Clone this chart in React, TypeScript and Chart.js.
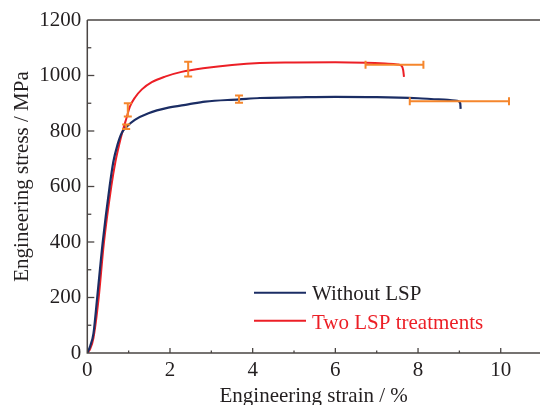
import React, { useEffect, useRef } from "react";
import { Chart, registerables } from "chart.js";
Chart.register(...registerables);

// ---- data ----
const navyStrain = [0, 0.07, 0.15, 0.23, 0.37, 0.54, 0.63, 0.73, 0.83, 0.95, 1.15, 1.48, 1.96, 2.44, 2.85, 3.67, 4.17, 5, 6, 7, 8, 8.5, 8.95, 9.02, 9.03];
const navyStress = [0, 25, 71, 185, 395, 600, 689, 750, 792, 815, 840, 864, 884, 896, 906, 914, 919, 921, 923, 922, 918, 914, 909, 900, 880];

const redStrain = [0, 0.07, 0.15, 0.27, 0.4, 0.58, 0.68, 0.77, 0.85, 0.95, 1.03, 1.15, 1.32, 1.56, 1.88, 2.28, 2.85, 3.5, 4.17, 5, 6, 6.74, 7.2, 7.5, 7.6, 7.64, 7.66];
const redStress = [0, 15, 55, 191, 395, 600, 689, 750, 797, 848, 888, 920, 950, 976, 996, 1013, 1027, 1038, 1045, 1047, 1048, 1046, 1043, 1040, 1035, 1020, 995];

const redErrStrain = [0.98, 2.44];
const redErrStress = [876, 1023];
const redErrSd = [24, 27];
const navyErrStrain = [0.94, 3.67];
const navyErrStress = [815, 915];
const navyErrSd = [8, 13];

const redElongStrain = [7.43];
const redElongStress = [1039];
const redElongSd = [0.7];
const navyElongStrain = [9.0];
const navyElongStress = [907];
const navyElongSd = [1.2];

const xTicks = [0, 2, 4, 6, 8, 10];
const yTicks = [0, 200, 400, 600, 800, 1000, 1200];
const seriesNames = ["Without LSP", "Two LSP treatments"];
const xTitle = "Engineering strain / %";
const yTitle = "Engineering stress / MPa";

const NAVY = "#1b2d64";
const RED = "#ec1f26";
const ORANGE = "#f5862c";
const AXIS = "#4a4543";
const TEXT = "#231f20";
const FONT = "'Liberation Serif', 'Times New Roman', serif";

export default function App() {
  const ref = useRef<HTMLCanvasElement>(null);

  useEffect(() => {
    const canvas = ref.current;
    if (!canvas) return;
    const ctx = canvas.getContext("2d")!;

    const decor = {
      id: "decor",
      afterDatasetsDraw(chart: any) {
        const c = chart.ctx;
        const xs = chart.scales.x;
        const ys = chart.scales.y;
        c.save();
        c.strokeStyle = ORANGE;
        c.lineWidth = 2;
        const vbar = (sx: number[], sy: number[], sd: number[]) => {
          for (let i = 0; i < sx.length; i++) {
            const px = xs.getPixelForValue(sx[i]);
            const y1 = ys.getPixelForValue(sy[i] + sd[i]);
            const y2 = ys.getPixelForValue(sy[i] - sd[i]);
            c.beginPath();
            c.moveTo(px, y1);
            c.lineTo(px, y2);
            c.moveTo(px - 4, y1);
            c.lineTo(px + 4, y1);
            c.moveTo(px - 4, y2);
            c.lineTo(px + 4, y2);
            c.stroke();
          }
        };
        const hbar = (sx: number[], sy: number[], sd: number[]) => {
          for (let i = 0; i < sx.length; i++) {
            const py = ys.getPixelForValue(sy[i]);
            const x1 = xs.getPixelForValue(sx[i] - sd[i]);
            const x2 = xs.getPixelForValue(sx[i] + sd[i]);
            c.beginPath();
            c.moveTo(x1, py);
            c.lineTo(x2, py);
            c.moveTo(x1, py - 4);
            c.lineTo(x1, py + 4);
            c.moveTo(x2, py - 4);
            c.lineTo(x2, py + 4);
            c.stroke();
          }
        };
        vbar(redErrStrain, redErrStress, redErrSd);
        vbar(navyErrStrain, navyErrStress, navyErrSd);
        hbar(redElongStrain, redElongStress, redElongSd);
        hbar(navyElongStrain, navyElongStress, navyElongSd);
        c.restore();
      },
      afterDraw(chart: any) {
        const c = chart.ctx;
        const a = chart.chartArea;
        const xs = chart.scales.x;
        const ys = chart.scales.y;
        c.save();
        // axes
        c.strokeStyle = AXIS;
        c.lineWidth = 1.5;
        c.beginPath();
        c.moveTo(a.left, a.top);
        c.lineTo(a.left, a.bottom);
        c.lineTo(a.right, a.bottom);
        c.moveTo(a.left, a.top);
        c.lineTo(a.right, a.top);
        c.stroke();
        // x ticks (inward)
        c.lineWidth = 1.3;
        for (let v = 1; v <= 10; v++) {
          const px = xs.getPixelForValue(v);
          const len = v % 2 === 0 ? 5 : 2.5;
          c.beginPath();
          c.moveTo(px, a.bottom);
          c.lineTo(px, a.bottom - len);
          c.stroke();
        }
        // y ticks (inward)
        for (let v = 100; v < 1200; v += 100) {
          const py = ys.getPixelForValue(v);
          const len = v % 200 === 0 ? 7 : 4;
          c.beginPath();
          c.moveTo(a.left, py);
          c.lineTo(a.left + len, py);
          c.stroke();
        }
        // titles
        c.fillStyle = TEXT;
        c.font = `21px ${FONT}`;
        c.textAlign = "center";
        c.textBaseline = "alphabetic";
        c.fillText(xTitle, (a.left + a.right) / 2, 401.5);
        c.save();
        c.translate(28.3, (a.top + a.bottom) / 2 - 10);
        c.rotate(-Math.PI / 2);
        c.fillText(yTitle, 0, 0);
        c.restore();
        // legend
        c.textAlign = "left";
        c.lineWidth = 2;
        c.strokeStyle = NAVY;
        c.beginPath();
        c.moveTo(254, 292.7);
        c.lineTo(306, 292.7);
        c.stroke();
        c.fillStyle = TEXT;
        c.fillText(seriesNames[0], 312, 300.3);
        c.strokeStyle = RED;
        c.beginPath();
        c.moveTo(254, 320.7);
        c.lineTo(306, 320.7);
        c.stroke();
        c.fillStyle = RED;
        c.fillText(seriesNames[1], 312, 328.5);
        c.restore();
      },
    };

    const chart = new Chart(ctx, {
      type: "scatter",
      data: {
        datasets: [
          {
            label: seriesNames[0],
            data: navyStrain.map((x, i) => ({ x, y: navyStress[i] })),
            showLine: true,
            borderColor: NAVY,
            borderWidth: 2.2,
            pointRadius: 0,
            cubicInterpolationMode: "monotone",
          },
          {
            label: seriesNames[1],
            data: redStrain.map((x, i) => ({ x, y: redStress[i] })),
            showLine: true,
            borderColor: RED,
            borderWidth: 2,
            pointRadius: 0,
            cubicInterpolationMode: "monotone",
          },
        ],
      },
      options: {
        responsive: false,
        animation: false,
        devicePixelRatio: 1,
        layout: { padding: { top: 20, right: 0, left: 0, bottom: 0 } },
        plugins: { legend: { display: false }, tooltip: { enabled: false } },
        scales: {
          x: {
            type: "linear",
            min: 0,
            max: 10.95,
            afterBuildTicks: (s: any) => {
              s.ticks = xTicks.map((v) => ({ value: v }));
            },
            afterFit: (s: any) => {
              s.height = 52;
            },
            grid: { display: false, drawTicks: false },
            border: { display: false },
            ticks: {
              padding: 5,
              color: TEXT,
              font: { family: FONT, size: 21 },
              maxRotation: 0,
              autoSkip: false,
              callback: (v: any) => String(v),
            },
          },
          y: {
            type: "linear",
            min: 0,
            max: 1200,
            afterBuildTicks: (s: any) => {
              s.ticks = yTicks.map((v) => ({ value: v }));
            },
            afterFit: (s: any) => {
              s.width = 87.3;
            },
            grid: { display: false, drawTicks: false },
            border: { display: false },
            ticks: {
              padding: 6,
              color: TEXT,
              font: { family: FONT, size: 21 },
              autoSkip: false,
              callback: (v: any) => String(v),
            },
          },
        },
      },
      plugins: [decor],
    } as any);

    return () => chart.destroy();
  }, []);

  return (
    <div style={{ position: "absolute", left: 0, top: 0, width: 540, height: 405 }}>
      <canvas ref={ref} width={540} height={405} style={{ display: "block" }} />
    </div>
  );
}
